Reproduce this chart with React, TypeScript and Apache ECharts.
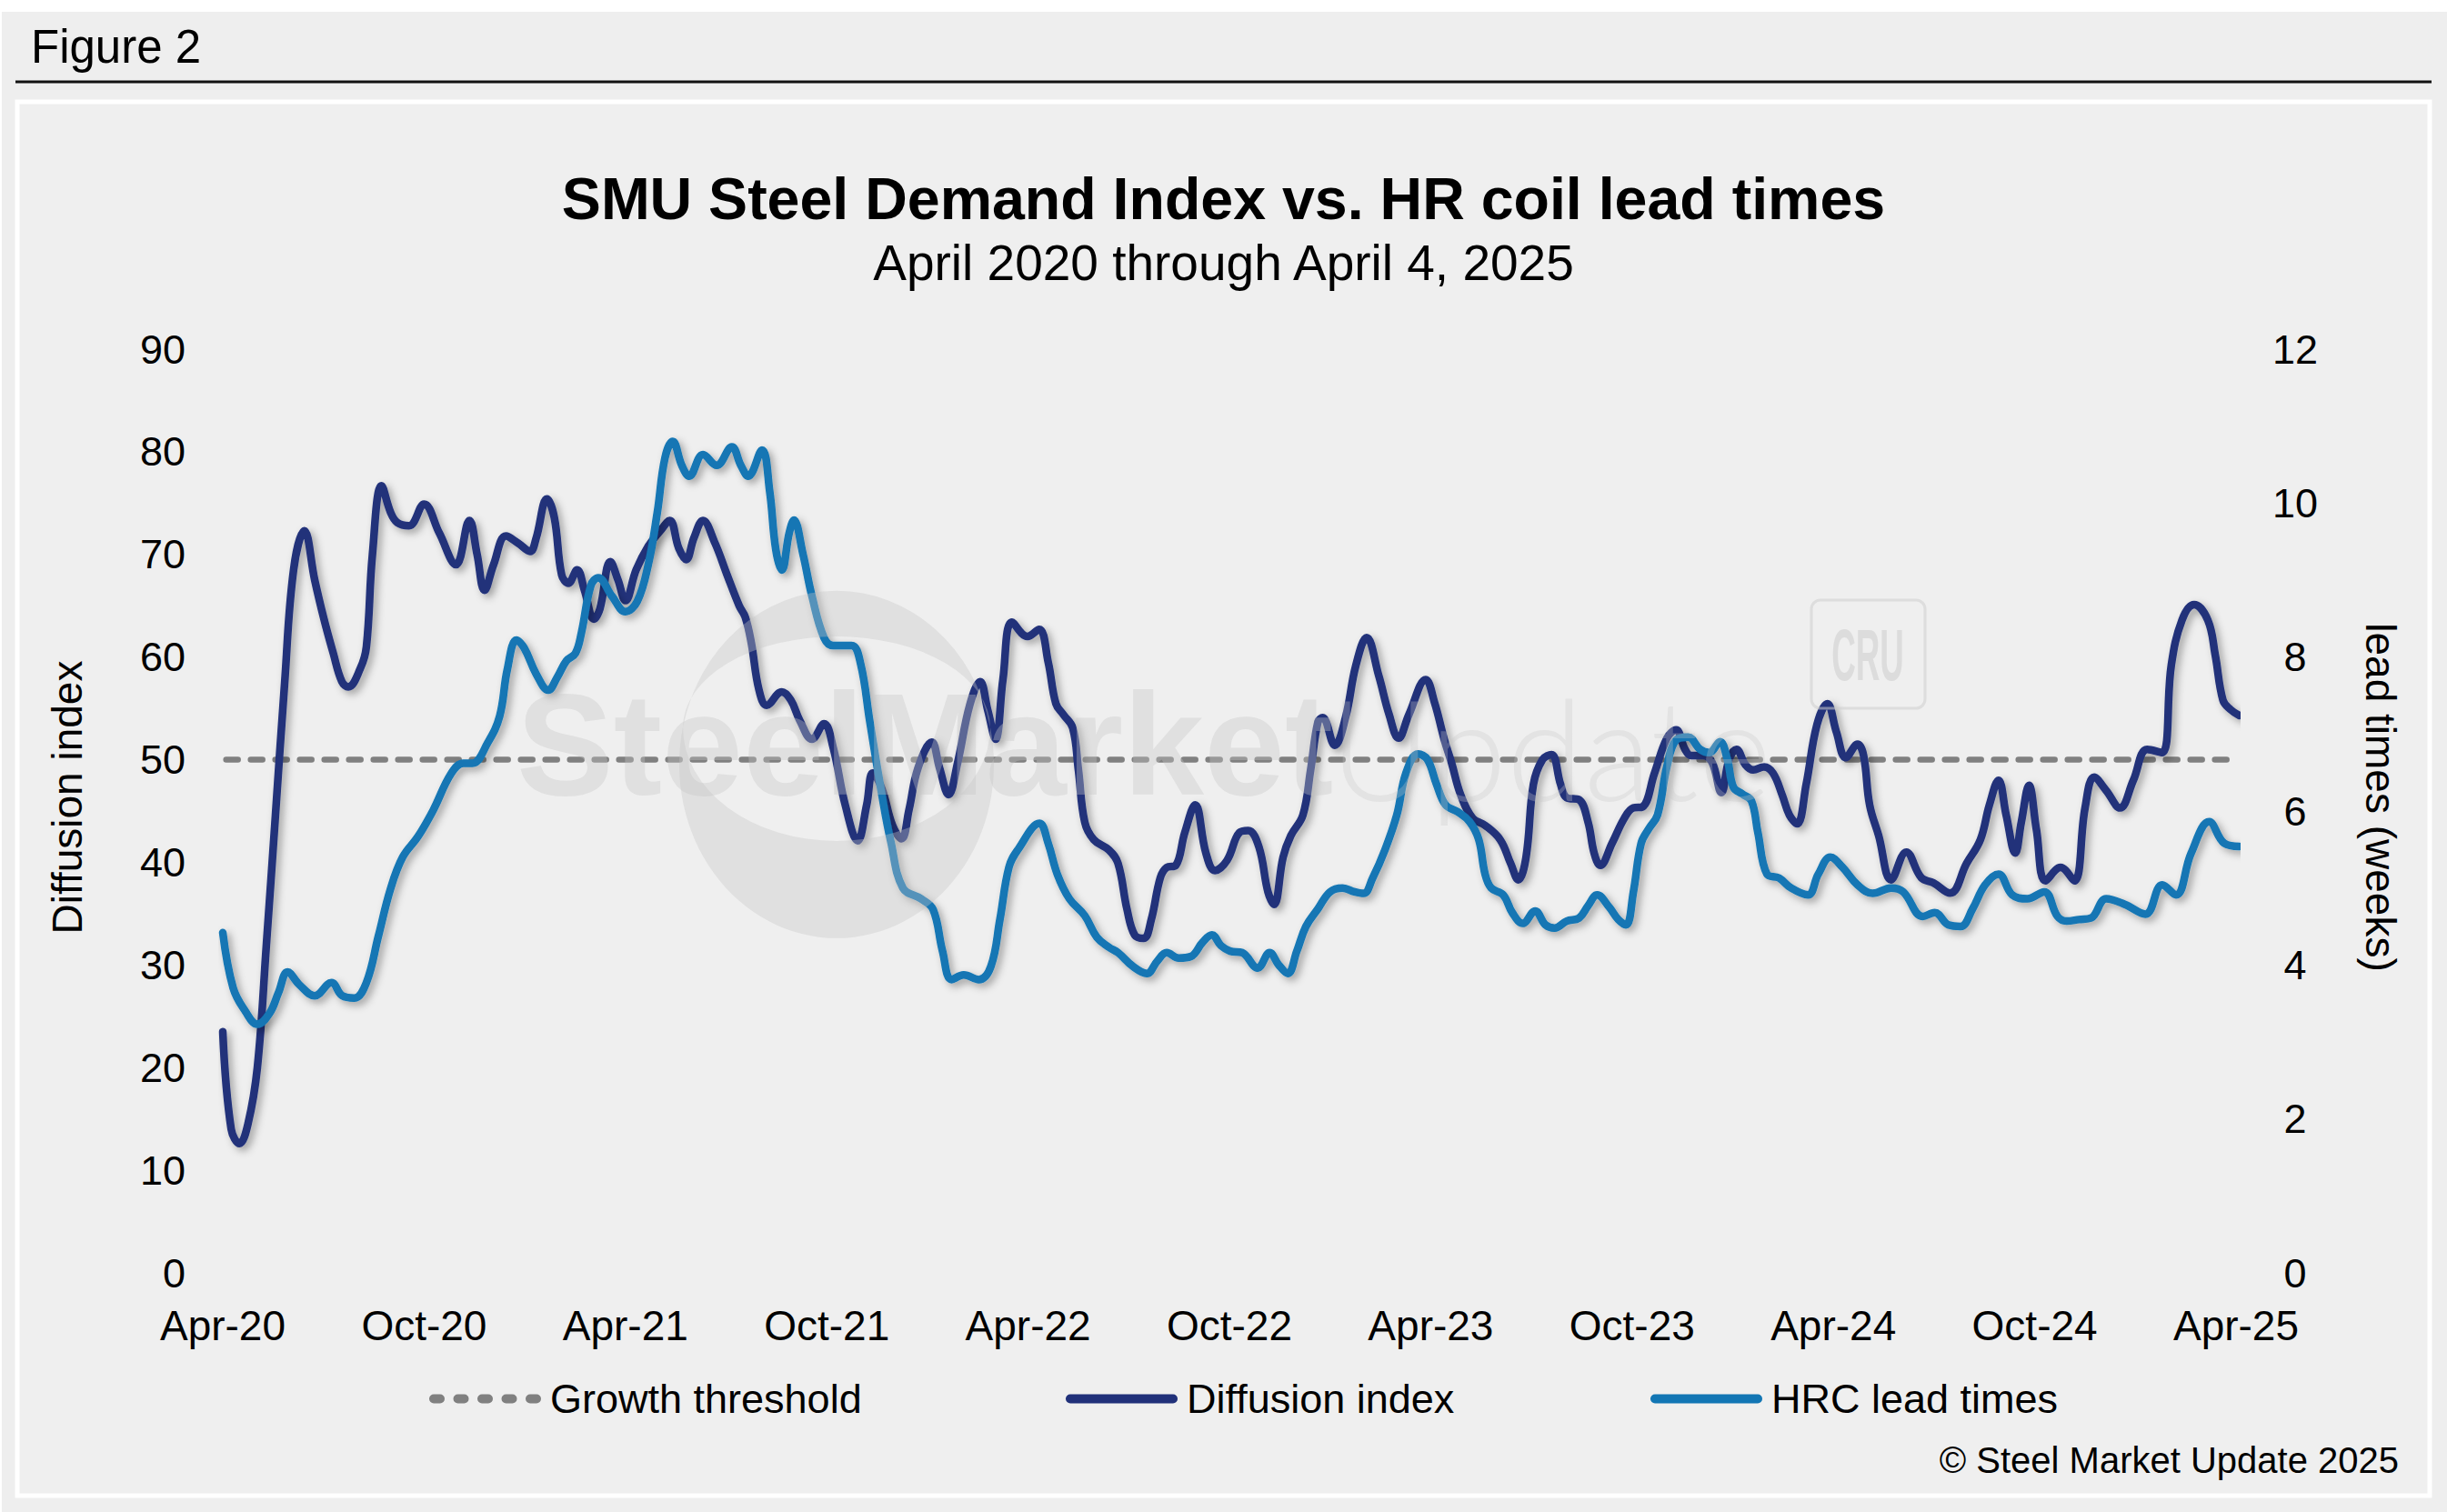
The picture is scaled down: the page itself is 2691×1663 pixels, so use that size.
import React, { useEffect, useRef } from "react";
import * as echarts from "echarts";

// x values are months elapsed since April 2020
const xTickLabels = ["Apr-20", "Oct-20", "Apr-21", "Oct-21", "Apr-22", "Oct-22", "Apr-23", "Oct-23", "Apr-24", "Oct-24", "Apr-25"];

const growthThreshold: [number, number][] = [[0.1, 50], [60.1, 50]];

const diffusionIndex: [number, number][] = [
  [0, 23.5], [0.25, 14], [0.5, 12.6], [0.75, 14.5], [1.03, 20], [1.3, 32], [1.57, 44.6], [1.84, 57.3], [2.11, 68.5], [2.43, 72.3],
  [2.74, 67.5], [3.0, 63.9], [3.29, 60.4], [3.55, 57.6], [3.74, 57.1], [4.1, 58.9], [4.28, 61], [4.46, 70], [4.73, 76.7], [5.0, 74.1],
  [5.2, 73.1], [5.55, 72.8], [6.0, 74.9], [6.45, 72.1], [6.95, 69], [7.35, 73.3], [7.58, 70], [7.8, 66.5], [8.07, 69], [8.44, 71.8],
  [8.8, 71.1], [9.16, 70.3], [9.34, 71.6], [9.66, 75.4], [9.88, 73.6], [10.1, 68], [10.3, 67.2], [10.56, 68.5], [10.78, 66.5], [11.06, 63.7],
  [11.24, 64.7], [11.55, 69.3], [11.78, 67.5], [12.0, 65.5], [12.32, 68.5], [12.68, 70.8], [13.04, 72.3], [13.32, 73.3], [13.59, 70.6], [13.81, 69.5],
  [14.04, 71.6], [14.31, 73.3], [14.67, 71.1], [15.03, 68], [15.39, 65], [15.57, 63.9], [15.75, 61.4], [15.98, 56.8], [16.21, 55.3], [16.66, 56.6],
  [16.93, 55.8], [17.2, 53.8], [17.56, 52], [17.92, 53.5], [18.19, 51.2], [18.55, 45.6], [18.92, 42.1], [19.19, 45.6], [19.37, 48.7], [19.64, 47.2],
  [19.96, 43.6], [20.23, 42.3], [20.45, 45.1], [20.72, 49.2], [21.13, 51.7], [21.36, 49.2], [21.63, 46.6], [21.9, 49.7], [22.26, 55.3], [22.57, 57.6],
  [22.8, 54.8], [23.03, 52], [23.25, 57.8], [23.52, 63.4], [23.98, 62], [24.33, 62.7], [24.6, 59.5], [24.83, 55.45], [25.05, 54.4], [25.33, 53.1],
  [25.5, 49], [25.69, 43.9], [25.96, 42.2], [26.41, 41.2], [26.68, 39.9], [26.95, 35.4], [27.18, 32.9], [27.45, 32.6], [27.67, 34.4], [27.94, 38.5],
  [28.13, 39.5], [28.4, 39.7], [28.67, 42.9], [28.98, 45.6], [29.3, 40.9], [29.57, 39.2], [29.93, 40.2], [30.3, 42.9], [30.56, 43.1], [30.88, 41.5],
  [31.15, 37.1], [31.33, 35.9], [31.6, 40.5], [31.83, 42.6], [32.19, 44.6], [32.42, 49], [32.64, 53.7], [32.78, 54.1], [33.14, 51.4], [33.46, 54.1],
  [33.77, 59.2], [34.09, 61.9], [34.45, 58.2], [34.76, 54.4], [35.04, 52.1], [35.35, 54.4], [35.85, 57.8], [36.12, 55.5], [36.4, 52], [36.62, 49.7],
  [36.89, 46.6], [37.25, 44.3], [37.62, 43.6], [38.07, 42.2], [38.38, 39.9], [38.61, 38.3], [38.84, 40.5], [39.06, 47.6], [39.33, 50], [39.6, 50.5],
  [39.87, 47.6], [40.05, 46.3], [40.42, 46.1], [40.69, 43.9], [40.87, 40.9], [41.05, 39.7], [41.41, 41.9], [41.77, 44.3], [42.04, 45.3], [42.31, 45.4],
  [42.67, 48.7], [43.04, 52.1], [43.31, 52.9], [43.58, 51], [43.76, 50.4], [44.12, 50.4], [44.39, 49.7], [44.66, 46.8], [44.89, 50], [45.11, 51],
  [45.38, 49.5], [45.61, 49], [45.93, 49.3], [46.2, 48.7], [46.47, 46.6], [46.69, 44.6], [46.92, 43.75], [47.19, 47.6], [47.51, 53.4], [47.82, 55.45],
  [48.09, 52.7], [48.37, 50.2], [48.72, 51.5], [48.9, 50.4], [49.08, 45.6], [49.35, 42.6], [49.72, 38.3], [50.17, 41], [50.62, 38.5], [50.98, 38],
  [51.48, 37], [51.97, 39.9], [52.38, 42.2], [52.65, 45.6], [52.92, 48], [53.15, 44.6], [53.42, 40.9], [53.6, 43.9], [53.83, 47.5], [54.05, 43.2],
  [54.32, 38.2], [54.77, 39.5], [55.18, 38.2], [55.5, 45.3], [55.77, 48.3], [56.13, 47], [56.54, 45.3], [56.94, 48], [57.35, 51], [57.8, 50.7],
  [58.07, 59.2], [58.39, 63.6], [58.75, 65.1], [59.16, 63.6], [59.38, 60.2], [59.61, 55.8], [59.83, 54.9], [60.1, 54.3],
];

const hrcLeadTimes: [number, number][] = [
  [0, 4.42], [0.31, 3.7], [0.67, 3.4], [1.03, 3.23], [1.39, 3.37], [1.66, 3.64], [1.93, 3.91], [2.29, 3.74], [2.74, 3.6], [3.24, 3.77],
  [3.56, 3.6], [3.92, 3.57], [4.28, 3.77], [4.64, 4.38], [5.0, 4.99], [5.36, 5.4], [5.82, 5.67], [6.27, 6.01], [6.81, 6.49], [7.17, 6.62],
  [7.44, 6.62], [7.9, 6.89], [8.25, 7.23], [8.48, 7.84], [8.75, 8.22], [8.98, 8.12], [9.34, 7.78], [9.7, 7.57], [9.97, 7.74], [10.24, 7.95],
  [10.51, 8.05], [10.69, 8.32], [10.97, 8.93], [11.19, 9.03], [11.6, 8.79], [12.0, 8.59], [12.35, 8.72], [12.68, 9.2], [12.95, 9.88], [13.18, 10.59],
  [13.41, 10.8], [13.68, 10.49], [13.9, 10.35], [14.31, 10.63], [14.72, 10.49], [15.17, 10.73], [15.44, 10.49], [15.66, 10.35], [16.07, 10.69], [16.3, 10.15],
  [16.48, 9.4], [16.66, 9.13], [16.88, 9.61], [17.02, 9.78], [17.29, 9.34], [17.56, 8.79], [17.92, 8.25], [18.19, 8.15], [18.74, 8.15], [19.01, 7.91],
  [19.28, 7.17], [19.64, 6.22], [19.91, 5.6], [20.27, 5.0], [20.81, 4.86], [21.17, 4.72], [21.45, 4.18], [21.72, 3.81], [22.08, 3.87], [22.53, 3.81],
  [22.89, 3.98], [23.16, 4.59], [23.43, 5.27], [23.7, 5.5], [24.34, 5.84], [24.6, 5.58], [24.87, 5.18], [25.23, 4.86], [25.69, 4.64], [26.05, 4.36],
  [26.41, 4.23], [26.68, 4.16], [27.13, 3.98], [27.54, 3.89], [27.85, 4.05], [28.13, 4.16], [28.49, 4.09], [28.85, 4.11], [29.21, 4.3], [29.48, 4.39],
  [29.75, 4.25], [30.02, 4.18], [30.38, 4.16], [30.84, 3.96], [31.2, 4.16], [31.47, 4.0], [31.74, 3.89], [32.01, 4.18], [32.28, 4.5], [32.64, 4.73],
  [33.0, 4.95], [33.37, 5.0], [33.73, 4.95], [34.0, 4.93], [34.27, 5.13], [34.63, 5.49], [34.99, 5.95], [35.26, 6.49], [35.62, 6.74], [35.9, 6.67],
  [36.17, 6.35], [36.44, 6.08], [36.8, 5.99], [37.16, 5.86], [37.43, 5.63], [37.62, 5.18], [37.8, 5.0], [38.16, 4.91], [38.43, 4.68], [38.74, 4.54],
  [39.11, 4.7], [39.42, 4.52], [39.69, 4.48], [40.05, 4.57], [40.42, 4.61], [40.69, 4.77], [40.96, 4.91], [41.32, 4.75], [41.59, 4.59], [41.82, 4.52],
  [42.04, 4.95], [42.27, 5.58], [42.5, 5.77], [42.76, 5.95], [43.04, 6.58], [43.31, 6.92], [43.67, 6.96], [44.03, 6.8], [44.3, 6.76], [44.62, 6.9],
  [44.84, 6.67], [45.02, 6.31], [45.29, 6.22], [45.56, 6.13], [45.75, 5.72], [46.02, 5.18], [46.38, 5.13], [46.74, 5.0], [47.24, 4.91], [47.55, 5.18],
  [47.91, 5.4], [48.27, 5.27], [48.72, 5.04], [49.17, 4.93], [49.72, 5.0], [50.08, 4.95], [50.66, 4.63], [51.02, 4.68], [51.43, 4.52], [51.79, 4.5],
  [52.15, 4.73], [52.52, 5.04], [52.92, 5.18], [53.33, 4.91], [53.78, 4.86], [54.28, 4.95], [54.68, 4.63], [54.95, 4.57], [55.32, 4.59], [55.68, 4.61],
  [56.13, 4.86], [56.67, 4.79], [57.3, 4.66], [57.8, 5.04], [58.21, 4.91], [58.66, 5.45], [59.2, 5.86], [59.65, 5.58], [60.1, 5.54],
];

const FONT = "'Liberation Sans', Arial, Helvetica, sans-serif";
const WM = "rgba(198,198,198,0.36)";

const crescentTop = "M 751 800 A 173 191 0 0 1 1089 800 A 169 100 0 0 0 751 800 Z";
const crescentBottom = "M 751 800 A 173 191 0 1 0 1089 800 A 169 125 0 0 1 751 800 Z";
echarts.graphic.registerShape("smuCrescentTop", echarts.graphic.extendPath(crescentTop, {}));
echarts.graphic.registerShape("smuCrescentBottom", echarts.graphic.extendPath(crescentBottom, {}));

// legend icons: a solid pill and a row of five short pills (dashed)
const pill = (x: number, w: number) => `M${x + 5},0 h${w - 10} a5,5 0 0 1 0,10 h-${w - 10} a5,5 0 0 1 0,-10 z`;
const solidIcon = "path://" + pill(0, 123);
const dashedIcon = "path://" + [0, 26.5, 53, 79.5, 106].map((x) => pill(x, 17)).join(" ");

export default function App() {
  const ref = useRef<HTMLDivElement>(null);

  useEffect(() => {
    if (!ref.current) return;
    const chart = echarts.init(ref.current, undefined, { renderer: "svg" });

    const axisText = { color: "#000", fontSize: 45, fontFamily: FONT };
    const legendBase = {
      top: 1511,
      itemWidth: 123,
      itemHeight: 10,
      symbolKeepAspect: false,
      itemStyle: { borderWidth: 0 },
      textStyle: { color: "#000", fontSize: 45, fontFamily: FONT, padding: [0, 0, 0, 5] },
      selectedMode: false,
    };
    const lineShadow = {
      shadowColor: "rgba(0,0,0,0.33)",
      shadowBlur: 8,
      shadowOffsetX: 4,
      shadowOffsetY: 4,
    };

    chart.setOption({
      animation: false,
      backgroundColor: "#eeeeee",
      textStyle: { fontFamily: FONT },
      title: [
        {
          text: "SMU Steel Demand Index vs. HR coil lead times",
          left: "center",
          top: 181,
          textStyle: { fontSize: 64.5, fontWeight: "bold", color: "#000", fontFamily: FONT },
        },
        {
          text: "April 2020 through April 4, 2025",
          left: "center",
          top: 256,
          textStyle: { fontSize: 55, fontWeight: "normal", color: "#000", fontFamily: FONT },
        },
      ],
      grid: { left: 245, right: 232, top: 384, bottom: 263, containLabel: false },
      xAxis: {
        type: "value",
        min: 0,
        max: 60,
        interval: 6,
        axisLine: { show: false },
        axisTick: { show: false },
        splitLine: { show: false },
        axisLabel: {
          ...axisText,
          fontSize: 46,
          margin: 35,
          formatter: (v: number) => xTickLabels[Math.round(v / 6)] ?? "",
        },
      },
      yAxis: [
        {
          type: "value",
          min: 0,
          max: 90,
          interval: 10,
          position: "left",
          axisLine: { show: false },
          axisTick: { show: false },
          splitLine: { show: false },
          axisLabel: { ...axisText, margin: 41 },
          name: "Diffusion index",
          nameLocation: "middle",
          nameGap: 148,
          nameTextStyle: { color: "#000", fontSize: 46, fontFamily: FONT, padding: [0, 0, 0, 30] },
        },
        {
          type: "value",
          min: 0,
          max: 12,
          interval: 2,
          position: "right",
          axisLine: { show: false },
          axisTick: { show: false },
          splitLine: { show: false },
          axisLabel: { ...axisText, margin: 65, align: "center" },
          name: "lead times (weeks)",
          nameLocation: "middle",
          nameGap: 136,
          nameRotate: -90,
          nameTextStyle: { color: "#000", fontSize: 46, fontFamily: FONT, padding: [0, 30, 0, 0] },
        },
      ],
      legend: [
        { ...legendBase, left: 467, data: [{ name: "Growth threshold", icon: dashedIcon }] },
        { ...legendBase, left: 1167, data: [{ name: "Diffusion index", icon: solidIcon }] },
        { ...legendBase, left: 1810, data: [{ name: "HRC lead times", icon: solidIcon }] },
      ],
      series: [
        {
          name: "Growth threshold",
          type: "line",
          yAxisIndex: 0,
          data: growthThreshold,
          symbol: "none",
          clip: false,
          z: 2,
          lineStyle: { color: "#808080", width: 6.5, type: [13, 14], cap: "round" },
          itemStyle: { color: "#808080" },
        },
        {
          name: "Diffusion index",
          type: "line",
          yAxisIndex: 0,
          data: diffusionIndex,
          symbol: "none",
          smooth: 0.4,
          clip: false,
          z: 3,
          lineStyle: { color: "#21317a", width: 8.5, cap: "round", join: "round", ...lineShadow },
          itemStyle: { color: "#21317a" },
        },
        {
          name: "HRC lead times",
          type: "line",
          yAxisIndex: 1,
          data: hrcLeadTimes,
          symbol: "none",
          smooth: 0.4,
          clip: false,
          z: 4,
          lineStyle: { color: "#1276b4", width: 8.5, cap: "round", join: "round", ...lineShadow },
          itemStyle: { color: "#1276b4" },
        },
      ],
      graphic: {
        elements: [
          { type: "rect", z: -10, silent: true, shape: { x: 0, y: 0, width: 2691, height: 13 }, style: { fill: "#ffffff" } },
          { type: "rect", z: -10, silent: true, shape: { x: 0, y: 0, width: 2, height: 1663 }, style: { fill: "#ffffff" } },
          {
            type: "rect",
            z: -9,
            silent: true,
            shape: { x: 19, y: 112, width: 2653, height: 1533 },
            style: { fill: "#efefef", stroke: "#ffffff", lineWidth: 5 },
          },
          {
            type: "line",
            z: -8,
            silent: true,
            shape: { x1: 17, y1: 90, x2: 2674, y2: 90 },
            style: { stroke: "#111111", lineWidth: 3 },
          },
          {
            type: "text",
            silent: true,
            x: 34,
            y: 51,
            style: { text: "Figure 2", fill: "#000", fontSize: 51, fontFamily: FONT, verticalAlign: "middle" },
          },
          {
            type: "text",
            silent: true,
            x: 2638,
            y: 1606,
            style: {
              text: "© Steel Market Update 2025",
              fill: "#000",
              fontSize: 40,
              fontFamily: FONT,
              align: "right",
              verticalAlign: "middle",
            },
          },
          // watermark (drawn over the lines, semi-transparent)
          { type: "smuCrescentTop", z: 50, silent: true, x: 0, y: 0, style: { fill: WM } },
          { type: "smuCrescentBottom", z: 50, silent: true, x: 0, y: 0, style: { fill: WM } },
          {
            type: "text",
            z: 50,
            silent: true,
            x: 568,
            y: 898,
            style: {
              text: "SteelMarket",
              fill: WM,
              fontSize: 160,
              fontWeight: "bold",
              fontFamily: FONT,
              verticalAlign: "bottom",
            },
          },
          {
            type: "text",
            z: 50,
            silent: true,
            x: 1462,
            y: 898,
            style: {
              text: "Update",
              fill: "rgba(198,198,198,0.3)",
              fontSize: 154,
              fontWeight: 300,
              fontFamily: "Lato, " + FONT,
              verticalAlign: "bottom",
            },
          },
          {
            type: "rect",
            z: 50,
            silent: true,
            shape: { x: 1992, y: 660, width: 125, height: 119, r: 10 },
            style: { fill: "none", stroke: "rgba(205,205,205,0.55)", lineWidth: 3 },
          },
          {
            type: "text",
            z: 50,
            silent: true,
            x: 2054,
            y: 720,
            scaleX: 0.46,
            style: {
              text: "CRU",
              fill: "rgba(198,198,198,0.45)",
              fontSize: 80,
              fontWeight: "bold",
              fontFamily: FONT,
              align: "center",
              verticalAlign: "middle",
            },
          },
        ],
      },
    });

    return () => chart.dispose();
  }, []);

  return (
    <div
      ref={ref}
      style={{ position: "fixed", left: 0, top: 0, width: 2691, height: 1663 }}
    />
  );
}
